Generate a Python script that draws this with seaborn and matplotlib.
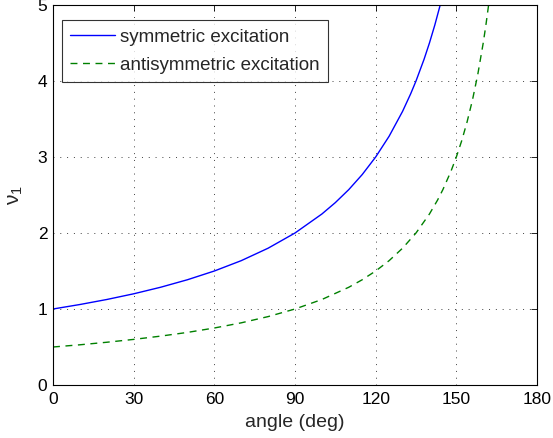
import numpy as np
import pandas as pd
import matplotlib
matplotlib.use('Agg')
import matplotlib.pyplot as plt
import seaborn as sns

# values
sym_angle = [0, 10, 20, 30, 40, 50, 60, 70, 80, 90, 100, 105, 110, 115, 120,
             125, 130, 133, 135, 138, 140, 142, 144]
sym_nu = [1.0, 1.059, 1.125, 1.2, 1.286, 1.385, 1.5, 1.636, 1.8, 2.0, 2.25, 2.4,
          2.571, 2.769, 3.0, 3.273, 3.6, 3.83, 4.0, 4.286, 4.5, 4.737, 5.0]

anti_angle = [0, 10, 20, 30, 40, 50, 60, 70, 80, 90, 100, 110, 115, 120, 125,
              130, 135, 140, 143, 145, 148, 150, 152, 154, 156, 158, 160, 161, 162]
anti_nu = [0.5, 0.529, 0.5625, 0.6, 0.643, 0.692, 0.75, 0.818, 0.9, 1.0, 1.125,
           1.286, 1.385, 1.5, 1.636, 1.8, 2.0, 2.25, 2.432, 2.571, 2.812, 3.0,
           3.214, 3.462, 3.75, 4.091, 4.5, 4.737, 5.0]

x_ticks = [0, 30, 60, 90, 120, 150, 180]
y_ticks = [0, 1, 2, 3, 4, 5]

sns.set_style('white')
plt.rcParams['font.family'] = ['Liberation Sans', 'DejaVu Sans']
plt.rcParams['mathtext.fontset'] = 'custom'
plt.rcParams['mathtext.rm'] = 'Liberation Sans'
plt.rcParams['mathtext.it'] = 'Liberation Sans'

fig = plt.figure(figsize=(5.53, 4.38), dpi=100)
ax = fig.add_axes([53 / 553, 1 - 385 / 438, 484 / 553, 380 / 438])

sym = pd.DataFrame({'angle': sym_angle, 'nu': sym_nu})
anti = pd.DataFrame({'angle': anti_angle, 'nu': anti_nu})

sns.lineplot(data=sym, x='angle', y='nu', ax=ax, color='#0000ff', lw=1.0,
             label='symmetric excitation')
sns.lineplot(data=anti, x='angle', y='nu', ax=ax, color='#008000', lw=1.0,
             linestyle=(0, (5, 4)), label='antisymmetric excitation')

ax.set_xlim(0, 180)
ax.set_ylim(0, 5)
ax.set_xticks(x_ticks)
ax.set_yticks(y_ticks)
ax.grid(True, linestyle=(0, (1, 6)), color='black', lw=0.7, alpha=0.75)
ax.tick_params(direction='in', length=4, width=0.6, labelsize=12.5,
               top=True, right=True, colors='black', pad=4)
ax.tick_params(axis='x', pad=5)
for s in ax.spines.values():
    s.set_visible(True)
    s.set_color('black')
    s.set_linewidth(0.8)

ax.set_xlabel('angle (deg)', fontsize=14, labelpad=5)
ax.set_ylabel('ν$_1$', fontsize=15, labelpad=9)

leg = ax.legend(loc='upper left', bbox_to_anchor=(9 / 484, 1 - 15 / 380),
                fontsize=13.5, frameon=True, fancybox=False, borderaxespad=0,
                handlelength=2.35, handletextpad=0.3, borderpad=0.45,
                labelspacing=0.6)
leg.get_frame().set_edgecolor('black')
leg.get_frame().set_linewidth(0.8)

fig.savefig('out.png', dpi=100)
